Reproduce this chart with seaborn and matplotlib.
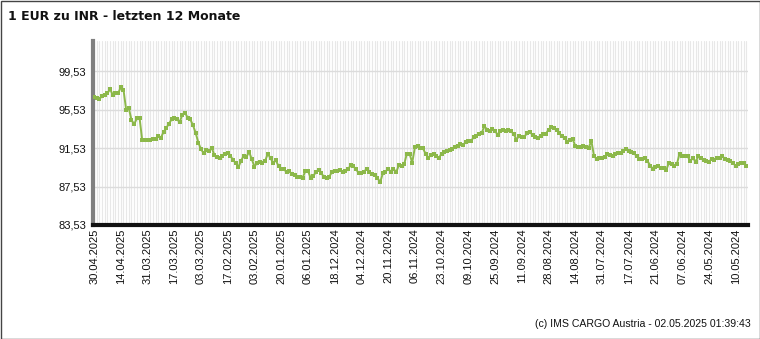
import matplotlib
matplotlib.use("Agg")
import matplotlib.pyplot as plt
import seaborn as sns
import pandas as pd
from matplotlib.patches import Rectangle

title = "1 EUR zu INR - letzten 12 Monate"
footer = "(c) IMS CARGO Austria - 02.05.2025 01:39:43"

tick_labels = ["30.04.2025", "14.04.2025", "31.03.2025", "17.03.2025", "03.03.2025",
               "17.02.2025", "03.02.2025", "20.01.2025", "06.01.2025", "18.12.2024",
               "04.12.2024", "20.11.2024", "06.11.2024", "23.10.2024", "09.10.2024",
               "25.09.2024", "11.09.2024", "28.08.2024", "14.08.2024", "31.07.2024",
               "17.07.2024", "21.06.2024", "07.06.2024", "24.05.2024", "10.05.2024"]

y_ticks = [83.53, 87.53, 91.53, 95.53, 99.53]

rates = [
    96.8, 96.75, 96.6, 96.95, 97.05, 97.2, 97.65, 97.05, 97.25, 97.2,
    97.85, 97.6, 95.5, 95.65, 94.45, 94.0, 94.6, 94.7, 92.35, 92.35,
    92.35, 92.4, 92.45, 92.5, 92.8, 92.6, 93.2, 93.6, 94.05, 94.5,
    94.6, 94.55, 94.2, 95.0, 95.2, 94.7, 94.5, 93.9, 93.1, 92.1,
    91.4, 91.0, 91.3, 91.2, 91.55, 90.8, 90.6, 90.45, 90.7, 90.95,
    91.05, 90.75, 90.25, 90.0, 89.55, 90.2, 90.75, 90.6, 91.15, 90.35,
    89.6, 90.0, 90.1, 89.95, 90.2, 90.95, 90.45, 90.0, 90.25, 89.65,
    89.4, 89.3, 89.05, 89.15, 88.8, 88.7, 88.5, 88.55, 88.45, 89.1,
    89.15, 88.45, 88.6, 89.05, 89.25, 88.95, 88.5, 88.45, 88.55, 89.05,
    89.15, 89.15, 89.25, 89.05, 89.1, 89.3, 89.75, 89.65, 89.3, 88.95,
    88.95, 89.05, 89.4, 89.05, 88.8, 88.75, 88.45, 87.95, 88.9, 89.05,
    89.4, 89.05, 89.4, 89.0, 89.75, 89.65, 89.85, 90.95, 90.95, 90.0,
    91.6, 91.75, 91.55, 91.5, 90.95, 90.5, 90.8, 90.9, 90.75, 90.5,
    90.95, 91.15, 91.2, 91.3, 91.45, 91.6, 91.75, 91.95, 91.8, 92.15,
    92.3, 92.25, 92.65, 92.75, 93.0, 93.1, 93.8, 93.45, 93.3, 93.55,
    93.3, 92.9, 93.3, 93.35, 93.3, 93.35, 93.3, 92.95, 92.4, 92.8,
    92.7, 92.7, 93.1, 93.2, 92.9, 92.65, 92.6, 92.75, 92.95, 93.0,
    93.45, 93.7, 93.65, 93.4, 93.1, 92.75, 92.6, 92.2, 92.4, 92.45,
    91.75, 91.65, 91.65, 91.7, 91.65, 91.55, 92.3, 90.7, 90.4, 90.5,
    90.5, 90.6, 90.95, 90.8, 90.75, 90.9, 91.05, 91.05, 91.2, 91.45,
    91.25, 91.15, 91.0, 90.65, 90.4, 90.35, 90.5, 90.2, 89.7, 89.4,
    89.6, 89.65, 89.5, 89.5, 89.2, 90.0, 89.9, 89.65, 89.85, 90.95,
    90.7, 90.7, 90.7, 90.15, 90.5, 90.1, 90.65, 90.5, 90.25, 90.2,
    90.1, 90.4, 90.3, 90.5, 90.45, 90.7, 90.4, 90.25, 90.2, 90.0,
    89.65, 89.9, 90.0, 89.95, 89.65,
]

df = pd.DataFrame({"idx": range(len(rates)), "rate": rates})

sns.set_style("white")
plt.rcParams["font.family"] = ["Liberation Sans", "DejaVu Sans"]

fig = plt.figure(figsize=(7.6, 3.39), dpi=100)
W, H = 760, 339
ax = fig.add_axes([93 / W, 1 - 225 / H, (748 - 93) / W, (225 - 41) / H])

# grid
for i in range(len(rates)):
    ax.axvline(i, color="#e8e8e8", linewidth=0.8, zorder=0)
for yv in y_ticks[1:]:
    ax.axhline(yv, color="#dcdcdc", linewidth=1.0, zorder=0.5)

sns.lineplot(data=df, x="idx", y="rate", ax=ax, color="#8cb84a", linewidth=1.4,
             marker="s", markersize=2.6, markeredgewidth=0, zorder=3)

ax.set_xlim(-0.4, 244.6)
ax.set_ylim(83.53, 102.65)
ax.set_xlabel("")
ax.set_ylabel("")

ax.set_xticks(list(range(0, 10 * len(tick_labels), 10)))
ax.set_xticklabels(tick_labels, rotation=90, fontsize=8, color="#111111")
ax.set_yticks(y_ticks)
ax.set_yticklabels([f"{v:.2f}".replace(".", ",") for v in y_ticks], fontsize=8, color="#111111")
ax.tick_params(axis="both", length=0)
ax.tick_params(axis="x", pad=2.5)
ax.tick_params(axis="y", pad=5)

for s in ["top", "right"]:
    ax.spines[s].set_visible(False)
ax.spines["left"].set_color("#808080")
ax.spines["left"].set_linewidth(3)
ax.spines["bottom"].set_color("#111111")
ax.spines["bottom"].set_linewidth(3)

fig.text(8 / W, 1 - 17 / H, title, fontsize=9, fontweight="bold",
         family="DejaVu Sans", ha="left", va="center", color="#111111")
fig.text(751 / W, 1 - 324 / H, footer, fontsize=7.6, ha="right", va="center", color="#111111")

fig.add_artist(Rectangle((0.5 / W, 0.5 / H), 1 - 1 / W, 1 - 1 / H, transform=fig.transFigure,
                         fill=False, edgecolor="#444444", linewidth=1))

fig.savefig("out.png", dpi=100)
